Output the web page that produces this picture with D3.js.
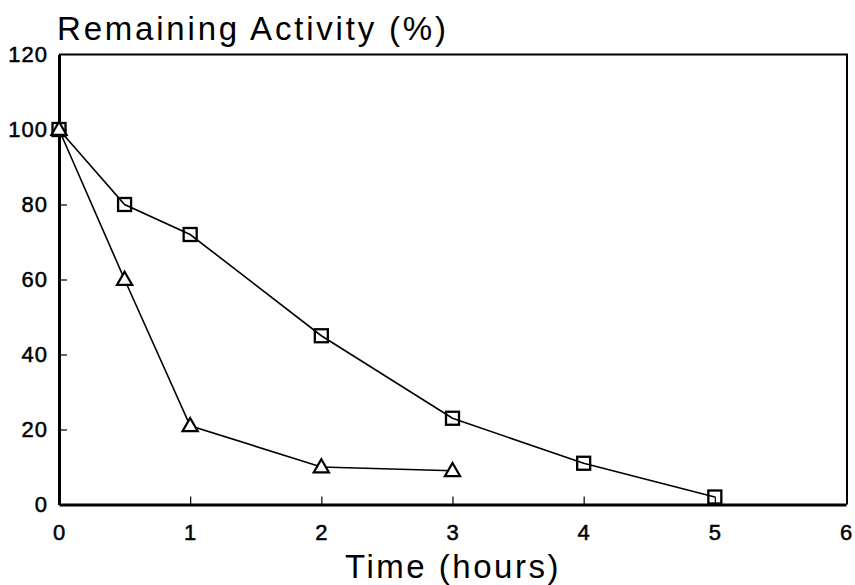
<!DOCTYPE html>
<html>
<head>
<meta charset="utf-8">
<script src="https://cdn.jsdelivr.net/npm/d3@7"></script>
<style>
  html, body { margin: 0; padding: 0; background: #fff; }
  svg { display: block; }
  text { font-family: "Liberation Sans", Arial, Helvetica, sans-serif; fill: #000; }
</style>
</head>
<body>
<svg id="chart" width="855" height="585"></svg>
<script>
// Time points (hours) and remaining activity (%) for the two series
const squareHours = [0, 0.5, 1, 2, 3, 4, 5];
const squareActivity = [100, 80, 72, 45, 23, 11, 2];
const triangleHours = [0, 0.5, 1, 2, 3];
const triangleActivity = [100, 60, 21, 10, 9];

const xTicks = [0, 1, 2, 3, 4, 5, 6];
const yTicks = [0, 20, 40, 60, 80, 100, 120];

const titleText = "Remaining Activity (%)";
const xTitleText = "Time (hours)";

const svg = d3.select("#chart");
const plot = { left: 59, right: 846, top: 54.5, bottom: 504.5 };

const x = d3.scaleLinear().domain([0, 6]).range([plot.left, plot.right]);
const y = d3.scaleLinear().domain([0, 120]).range([plot.bottom, plot.top]);

// Frame: top and right edges
svg.append("path")
  .attr("d", `M${plot.left},${plot.top}H${plot.right + 1}V${plot.bottom}`)
  .attr("fill", "none").attr("stroke", "#000").attr("stroke-width", 2);

function styleTickText(sel) {
  sel.attr("font-size", 22)
    .attr("font-family", "Liberation Sans, Arial, sans-serif")
    .attr("letter-spacing", 1)
    .attr("stroke", "#000").attr("stroke-width", 0.5);
}

// Bottom axis with inward ticks
const xAxis = svg.append("g").attr("transform", `translate(0,${plot.bottom})`)
  .call(d3.axisBottom(x).tickValues(xTicks).tickSizeInner(-8).tickSizeOuter(0).tickPadding(20).tickFormat(d3.format("d")));
xAxis.select(".domain").attr("stroke-width", 3);
xAxis.selectAll(".tick line").attr("stroke-width", 1.2);
xAxis.selectAll(".tick text").call(styleTickText).attr("dy", "0.71em");

// Left axis with inward ticks
const yAxis = svg.append("g").attr("transform", `translate(${plot.left},0)`)
  .call(d3.axisLeft(y).tickValues(yTicks).tickSizeInner(-8).tickSizeOuter(0).tickPadding(11).tickFormat(d3.format("d")));
yAxis.select(".domain").attr("stroke-width", 3);
yAxis.selectAll(".tick line").attr("stroke-width", 1.2);
yAxis.selectAll(".tick text").call(styleTickText);

// No tick marks at the corners
xAxis.selectAll(".tick").filter(d => d === 0 || d === 6).select("line").remove();
yAxis.selectAll(".tick").filter(d => d === 0 || d === 120).select("line").remove();

const line = d3.line().x(d => x(d[0])).y(d => y(d[1]));

const squarePts = squareHours.map((h, i) => [h, squareActivity[i]]);
const trianglePts = triangleHours.map((h, i) => [h, triangleActivity[i]]);

svg.append("path").datum(squarePts).attr("d", line)
  .attr("fill", "none").attr("stroke", "#000").attr("stroke-width", 1.6);
svg.append("path").datum(trianglePts).attr("d", line)
  .attr("fill", "none").attr("stroke", "#000").attr("stroke-width", 1.6);

// Square markers
svg.append("g").selectAll("rect").data(squarePts).join("rect")
  .attr("x", d => x(d[0]) - 6.5).attr("y", d => y(d[1]) - 6.5)
  .attr("width", 13).attr("height", 13)
  .attr("fill", "none").attr("stroke", "#000").attr("stroke-width", 2.3);

// Triangle markers
const tri = d3.symbol().type(d3.symbolTriangle).size(100);
svg.append("g").selectAll("path").data(trianglePts).join("path")
  .attr("transform", d => `translate(${x(d[0])},${y(d[1]) + 1})`)
  .attr("d", tri)
  .attr("fill", "#fff").attr("stroke", "#000").attr("stroke-width", 2.2);

// Titles
svg.append("text").attr("x", 57).attr("y", 40)
  .attr("font-size", 33).attr("letter-spacing", 2.8).text(titleText);
svg.append("text").attr("x", 453).attr("y", 578)
  .attr("text-anchor", "middle").attr("font-size", 33).attr("letter-spacing", 2.5).text(xTitleText);
</script>
</body>
</html>
